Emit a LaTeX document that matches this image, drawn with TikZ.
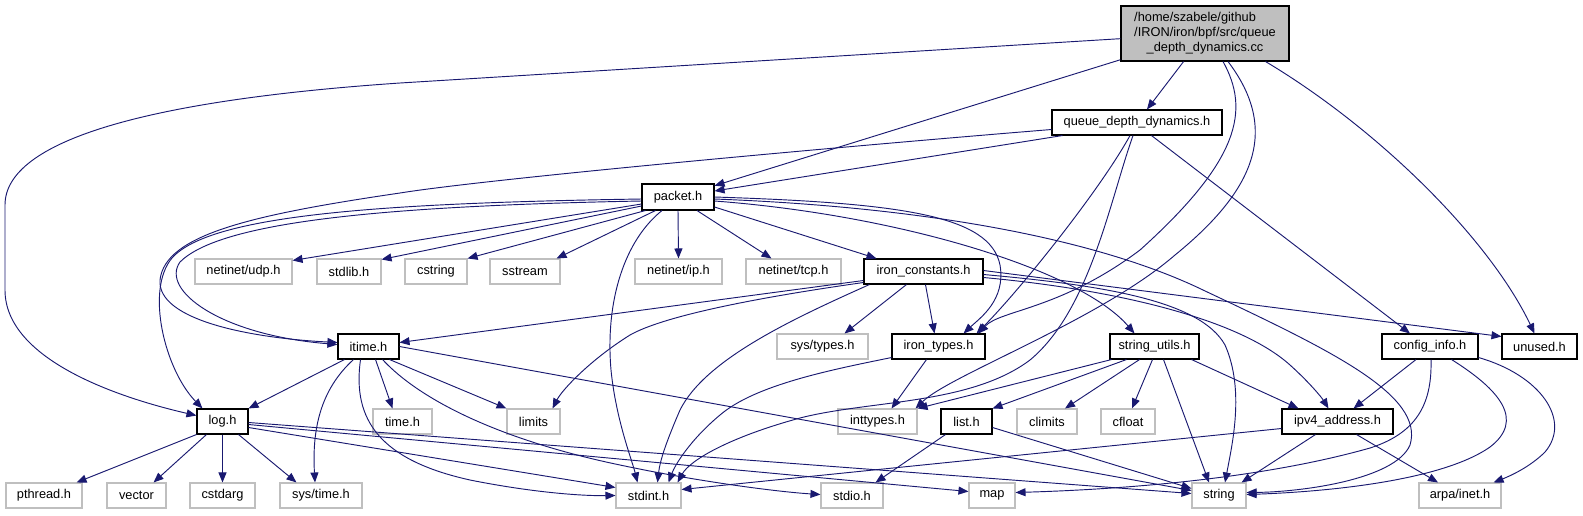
\documentclass[tikz,border=0pt]{standalone}
\usepackage{fontspec}
\setmainfont{Liberation Sans}
\usetikzlibrary{arrows.meta,calc}
\definecolor{edgecol}{HTML}{191970}
\definecolor{gfill}{HTML}{BFBFBF}
\newcommand\bx[7]{\node[#6, minimum width={(#4-#2)*0.75pt}, minimum height={(#5-#3)*0.75pt}] (#1) at ({(#2+#4)/2},{(#3+#5)/2}) {#7};}
\begin{document}
\begin{tikzpicture}[x=0.75pt,y=-0.75pt,
  font=\fontsize{9.6}{11.25}\selectfont,
  doc/.style={draw=black, fill=white, line width=0.8pt, inner sep=0pt},
  undoc/.style={draw=gfill, fill=white, line width=0.8pt, inner sep=0pt},
  root/.style={draw=black, fill=gfill, line width=0.8pt, inner sep=0pt},
  edge/.style={draw=edgecol, line width=0.7pt, -{Triangle[length=7.5pt,width=6pt]}}]
\useasboundingbox (0,0) rectangle (1583,515);

% nodes
\bx{main}{1121}{6}{1289}{61}{root}{\begin{tabular}{@{}l@{}}/home/szabele/github\\/IRON/iron/bpf/src/queue\\\multicolumn{1}{@{}c@{}}{\_depth\_dynamics.cc}\end{tabular}}
\bx{qddh}{1052}{110}{1222}{135}{doc}{queue\_depth\_dynamics.h}
\bx{packet}{642}{184}{714}{210}{doc}{packet.h}
\bx{udp}{195}{259}{292}{284}{undoc}{netinet/udp.h}
\bx{stdlib}{317}{259}{381}{284}{undoc}{stdlib.h}
\bx{cstring}{405}{259}{467}{284}{undoc}{cstring}
\bx{sstream}{490}{259}{560}{284}{undoc}{sstream}
\bx{ip}{635}{259}{722}{284}{undoc}{netinet/ip.h}
\bx{tcp}{746}{259}{841}{284}{undoc}{netinet/tcp.h}
\bx{ironc}{864}{259}{983}{284}{doc}{iron\_constants.h}
\bx{itime}{338}{334}{399}{359}{doc}{itime.h}
\bx{systypes}{777}{334}{868}{359}{undoc}{sys/types.h}
\bx{irontypes}{892}{334}{985}{359}{doc}{iron\_types.h}
\bx{strutils}{1110}{334}{1199}{359}{doc}{string\_utils.h}
\bx{config}{1382}{334}{1478}{359}{doc}{config\_info.h}
\bx{unused}{1502}{334}{1577}{359}{doc}{unused.h}
\bx{log}{197}{409}{248}{434}{doc}{log.h}
\bx{timeh}{373}{409}{432}{434}{undoc}{time.h}
\bx{limits}{507}{409}{560}{434}{undoc}{limits}
\bx{inttypes}{838}{409}{917}{434}{undoc}{inttypes.h}
\bx{list}{941}{409}{992}{434}{doc}{list.h}
\bx{climits}{1017}{409}{1077}{434}{undoc}{climits}
\bx{cfloat}{1101}{409}{1155}{434}{undoc}{cfloat}
\bx{ipv4}{1282}{409}{1393}{434}{doc}{ipv4\_address.h}
\bx{pthread}{6}{483}{82}{508}{undoc}{pthread.h}
\bx{vector}{107}{483}{166}{508}{undoc}{vector}
\bx{cstdarg}{190}{483}{255}{508}{undoc}{cstdarg}
\bx{systime}{280}{483}{362}{508}{undoc}{sys/time.h}
\bx{stdint}{616}{483}{681}{508}{undoc}{stdint.h}
\bx{stdio}{821}{483}{883}{508}{undoc}{stdio.h}
\bx{map}{969}{483}{1015}{508}{undoc}{map}
\bx{string}{1192}{483}{1246}{508}{undoc}{string}
\bx{arpa}{1419}{483}{1501}{508}{undoc}{arpa/inet.h}

% main
\draw[edge] (main) -- (400,83) .. controls (150,100) and (5,140) .. (5,205) -- (5,290) .. controls (5,360) and (120,398) .. (log);
\draw[edge] (main) -- (packet);
\draw[edge] (main) -- (qddh);
\draw[edge] ($(main.south)+(18,0)$) .. controls (1250,110) and (1240,160) .. (1140,250) .. controls (1060,310) and (1000,310) .. ($(irontypes.north east)+(-7,0)$);
\draw[edge] ($(main.south)+(23,0)$) .. controls (1280,130) and (1255,190) .. (1175,255) .. controls (1100,320) and (950,375) .. ($(inttypes.north east)+(-2,0)$);
\draw[edge] ($(main.south east)+(-24,0)$) .. controls (1380,130) and (1490,240) .. ($(unused.north)+(-5,0)$);

% queue_depth_dynamics.h
\draw[edge] ($(qddh.south west)+(11,0)$) -- ($(packet.east)+(0,-6)$);
\draw[edge] ($(qddh.west)+(0,7)$) .. controls (800,150) and (480,180) .. (400,193) .. controls (250,215) and (165,235) .. (160,280) .. controls (157,320) and (250,338) .. ($(itime.west)+(0,-4)$);
\draw[edge] ($(qddh.south)+(-4,0)$) .. controls (1110,200) and (1090,310) .. (1030,360) .. controls (970,405) and (870,400) .. (800,418) .. controls (730,437) and (690,460) .. ($(stdint.north east)+(-4,0)$);
\draw[edge] ($(qddh.south)+(-7,0)$) .. controls (1100,190) and (1020,290) .. ($(irontypes.north east)+(-9,0)$);
\draw[edge] ($(qddh.south west)+(100,0)$) -- ($(config.north)+(-20,0)$);

% packet.h
\draw[edge] ($(packet.west)+(0,2)$) .. controls (380,203) and (210,215) .. (172,258) .. controls (145,290) and (165,370) .. ($(log.north)+(-20,0)$);
\draw[edge] ($(packet.west)+(0,4)$) .. controls (380,206) and (220,222) .. (180,262) .. controls (160,290) and (220,335) .. ($(itime.west)+(0,-2)$);
\draw[edge] ($(packet.west)+(0,7)$) -- ($(udp.north east)+(0,2)$);
\draw[edge] ($(packet.west)+(0,9)$) -- ($(stdlib.north east)+(0,1)$);
\draw[edge] ($(packet.south west)+(4,0)$) -- (cstring.north east);
\draw[edge] ($(packet.south west)+(14,0)$) -- ($(sstream.north east)+(-4,0)$);
\draw[edge] (packet.south) -- (ip.north);
\draw[edge] ($(packet.south)+(19,0)$) -- ($(tcp.north)+(-22,0)$);
\draw[edge] ($(packet.east)+(0,10)$) -- ($(ironc.north west)+(13,0)$);
\draw[edge] ($(packet.south)+(-16,0)$) .. controls (625,240) and (605,300) .. (611,370) .. controls (616,420) and (632,460) .. ($(stdint.north)+(-11,0)$);
\draw[edge] (packet.east) .. controls (900,203) and (990,215) .. (1000,265) .. controls (1006,300) and (980,318) .. ($(irontypes.north east)+(-22,0)$);
\draw[edge] ($(packet.east)+(0,4)$) .. controls (900,215) and (1080,270) .. ($(strutils.north)+(-20,0)$);
\draw[edge] ($(packet.east)+(0,2)$) .. controls (950,208) and (1110,245) .. (1203,290) .. controls (1330,350) and (1425,395) .. (1410,445) .. controls (1395,480) and (1300,492) .. ($(string.east)+(0,-3)$);

% iron_constants.h
\draw[edge] ($(ironc.west)+(0,9)$) -- ($(itime.east)+(0,-4)$);
\draw[edge] ($(ironc.west)+(0,11)$) .. controls (740,300) and (660,318) .. (630,335) .. controls (590,360) and (562,390) .. ($(limits.north east)+(-8,0)$);
\draw[edge] ($(ironc.south west)+(6,0)$) .. controls (790,320) and (705,360) .. (680,410) .. controls (667,440) and (660,460) .. ($(stdint.north)+(9,0)$);
\draw[edge] ($(ironc.south west)+(43,0)$) -- ($(systypes.north)+(22,0)$);
\draw[edge] ($(ironc.south west)+(62,0)$) -- ($(irontypes.north)+(-4,0)$);
\draw[edge] ($(ironc.east)+(0,3)$) .. controls (1100,285) and (1200,300) .. (1225,345) .. controls (1245,390) and (1232,445) .. ($(string.north)+(6,0)$);
\draw[edge] ($(ironc.east)+(0,6)$) .. controls (1120,290) and (1240,320) .. (1290,365) .. controls (1310,383) and (1322,398) .. ($(ipv4.north)+(-9,0)$);
\draw[edge] ($(ironc.east)+(0,-1)$) -- ($(unused.west)+(0,-10)$);

% itime.h
\draw[edge] ($(itime.south west)+(7,0)$) -- (log.north east);
\draw[edge] ($(itime.south)+(-15,0)$) .. controls (320,390) and (312,430) .. ($(systime.north)+(-6,0)$);
\draw[edge] ($(itime.south)+(-8,0)$) .. controls (352,420) and (380,460) .. (470,480) .. controls (530,492) and (580,496) .. (stdint.west);
\draw[edge] ($(itime.south)+(7,0)$) -- ($(timeh.north)+(-10,0)$);
\draw[edge] ($(itime.south east)+(-10,0)$) -- (limits.north west);
\draw[edge] ($(itime.south east)+(-17,0)$) .. controls (420,400) and (500,440) .. (620,465) .. controls (700,482) and (780,492) .. ($(stdio.west)+(0,-1)$);
\draw[edge] (itime.east) -- ($(string.west)+(0,-5)$);

% log.h
\draw[edge] (log.south west) -- ($(pthread.north east)+(-6,0)$);
\draw[edge] ($(log.south west)+(10,0)$) -- ($(vector.north east)+(-13,0)$);
\draw[edge] (log.south) -- (cstdarg.north);
\draw[edge] ($(log.south east)+(-10,0)$) -- ($(systime.north west)+(17,0)$);
\draw[edge] ($(log.east)+(0,1)$) -- ($(string.west)+(0,-2)$);
\draw[edge] ($(log.east)+(0,3)$) -- ($(map.west)+(0,-4)$);
\draw[edge] ($(log.east)+(0,6)$) -- ($(stdint.west)+(0,-8)$);

% iron_types.h
\draw[edge] ($(irontypes.south west)+(0,-2)$) .. controls (830,370) and (755,385) .. (720,415) .. controls (690,440) and (675,465) .. ($(stdint.north east)+(-13,0)$);
\draw[edge] ($(irontypes.south)+(-12,0)$) -- ($(inttypes.north)+(14,0)$);

% string_utils.h
\draw[edge] ($(strutils.south west)+(2,0)$) -- (inttypes.north east);
\draw[edge] ($(strutils.south west)+(17,0)$) -- (list.north east);
\draw[edge] ($(strutils.south)+(-15,0)$) -- ($(climits.north)+(18,0)$);
\draw[edge] ($(strutils.south)+(-2,0)$) -- ($(cfloat.north)+(4,0)$);
\draw[edge] ($(strutils.south)+(9,0)$) -- ($(string.north)+(-10,0)$);
\draw[edge] ($(strutils.south east)+(-8,0)$) -- ($(ipv4.north west)+(17,0)$);

% list.h
\draw[edge] ($(list.south west)+(5,0)$) -- ($(stdio.north east)+(-8,0)$);
\draw[edge] ($(list.east)+(0,6)$) -- ($(string.west)+(0,-7)$);

% config_info.h
\draw[edge] ($(config.south)+(-14,0)$) -- ($(ipv4.north)+(16,0)$);
\draw[edge] ($(config.south)+(1,0)$) .. controls (1432,400) and (1420,432) .. (1370,448) .. controls (1250,482) and (1100,490) .. ($(map.east)+(0,-3)$);
\draw[edge] ($(config.south east)+(-27,0)$) .. controls (1500,390) and (1525,420) .. (1490,447) .. controls (1440,482) and (1320,492) .. ($(string.east)+(0,-1)$);
\draw[edge] ($(config.south east)+(0,-2)$) .. controls (1540,375) and (1572,420) .. (1545,452) .. controls (1530,467) and (1510,476) .. ($(arpa.north east)+(-8,0)$);

% ipv4_address.h
\draw[edge] ($(ipv4.west)+(0,7)$) -- ($(stdint.east)+(0,-6)$);
\draw[edge] ($(ipv4.south west)+(34,0)$) -- ($(string.north east)+(-5,0)$);
\draw[edge] ($(ipv4.south east)+(-37,0)$) -- ($(arpa.north)+(-22,0)$);
\end{tikzpicture}
\end{document}
